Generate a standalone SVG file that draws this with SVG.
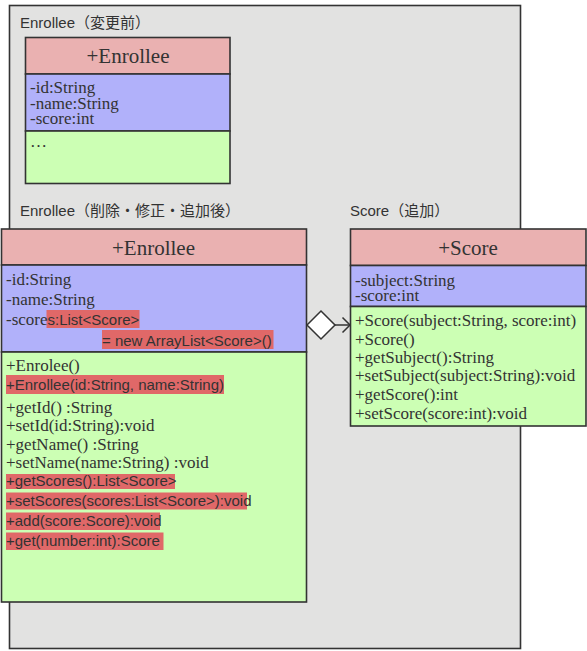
<svg xmlns="http://www.w3.org/2000/svg" width="587" height="651" viewBox="0 0 587 651">
<style>
.box{stroke:#333;stroke-width:1.6}
.hd{fill:#eab1b1}
.at{fill:#b1b1fa}
.me{fill:#ccffb4}
.hl{fill:#e06868}
.cls{font-family:"Liberation Serif","Times New Roman",serif;font-size:21px;fill:#333;text-anchor:middle}
.mem{font-family:"Liberation Serif","Times New Roman",serif;font-size:17px;fill:#333}
.sans{font-family:"Liberation Sans",Arial,sans-serif;font-size:15px;fill:#333}
.lbl{font-family:"Liberation Sans",Arial,"Noto Sans CJK JP",sans-serif;font-size:15px;fill:#333}
.shadow{fill:none;stroke:#b8b8b8;stroke-width:1}
</style>
<rect id="panel" x="9.5" y="5.5" width="511" height="643" fill="#e2e2e1" stroke="#333" stroke-width="1.6"/>
<g id="labels">
<text class="lbl" x="20" y="28">Enrollee（変更前）</text>
<text class="lbl" x="20" y="216">Enrollee（削除・修正・追加後）</text>
<text class="lbl" x="350" y="216">Score（追加）</text>
</g>
<g id="enrollee-old">
<rect class="box hd" x="25.5" y="37.5" width="204.5" height="36.5"/>
<rect class="box at" x="25.5" y="74" width="204.5" height="57"/>
<rect class="box me" x="25.5" y="131" width="204.5" height="52.5"/>
<text class="cls" x="128" y="63">+Enrollee</text>
<text class="mem" x="30" y="93">-id:String</text>
<text class="mem" x="30" y="109">-name:String</text>
<text class="mem" x="30" y="124">-score:int</text>
<text class="mem" x="30" y="147">…</text>
</g>
<g id="enrollee-new">
<rect class="box hd" x="1.5" y="229" width="305" height="36"/>
<rect class="box at" x="1.5" y="265" width="305" height="87"/>
<rect class="box me" x="1.5" y="352" width="305" height="250"/>
<text class="cls" x="153.5" y="255">+Enrollee</text>
<text class="mem" x="6" y="284.5">-id:String</text>
<text class="mem" x="6" y="305">-name:String</text>
<rect class="hl" x="46.5" y="310" width="93" height="18"/>
<rect class="hl" x="102" y="330" width="171.5" height="19"/>
<text class="mem" x="6" y="325">-score<tspan class="sans">s:List&lt;Score&gt;</tspan></text>
<text class="sans" x="102" y="345.5">= new ArrayList&lt;Score&gt;()</text>
<rect class="hl" x="6" y="375" width="218" height="19"/>
<rect class="hl" x="6" y="474" width="169" height="15"/>
<rect class="hl" x="6" y="492.5" width="241" height="17"/>
<rect class="hl" x="6" y="512.5" width="154" height="17.5"/>
<rect class="hl" x="6" y="532.5" width="157.5" height="17.5"/>
<text class="mem" x="6" y="371">+Enrolee()</text>
<text class="sans" x="6" y="390">+Enrollee(id:String, name:String)</text>
<text class="mem" x="6" y="413">+getId() :String</text>
<text class="mem" x="6" y="431">+setId(id:String):void</text>
<text class="mem" x="6" y="450">+getName() :String</text>
<text class="mem" x="6" y="468">+setName(name:String) :void</text>
<text class="sans" x="6" y="485.5">+getScores():List&lt;Score&gt;</text>
<text class="sans" x="6" y="506">+setScores(scores:List&lt;Score&gt;):void</text>
<text class="sans" x="6" y="526">+add(score:Score):void</text>
<text class="sans" x="6" y="546">+get(number:int):Score</text>
</g>
<g id="score">
<rect class="box hd" x="350.5" y="229" width="235.5" height="36.5"/>
<rect class="box at" x="350.5" y="265.5" width="235.5" height="41"/>
<rect class="box me" x="350.5" y="306.5" width="235.5" height="119.5"/>
<text class="cls" x="468" y="255">+Score</text>
<text class="mem" x="355" y="285.5">-subject:String</text>
<text class="mem" x="355" y="301">-score:int</text>
<text class="mem" x="355" y="326">+Score(subject:String, score:int)</text>
<text class="mem" x="355" y="344.5">+Score()</text>
<text class="mem" x="355" y="363">+getSubject():String</text>
<text class="mem" x="355" y="381">+setSubject(subject:String):void</text>
<text class="mem" x="355" y="400">+getScore():int</text>
<text class="mem" x="355" y="418.5">+setScore(score:int):void</text>
</g>
<g id="connectors" stroke="#333" stroke-width="1.5" fill="none">
<polygon points="307,325 321,311 335,325 321,339" fill="#fff"/>
<line x1="335" y1="325" x2="349.5" y2="325"/>
<polyline points="342.5,317.5 350,325 342.5,332.5"/>
</g>
</svg>
